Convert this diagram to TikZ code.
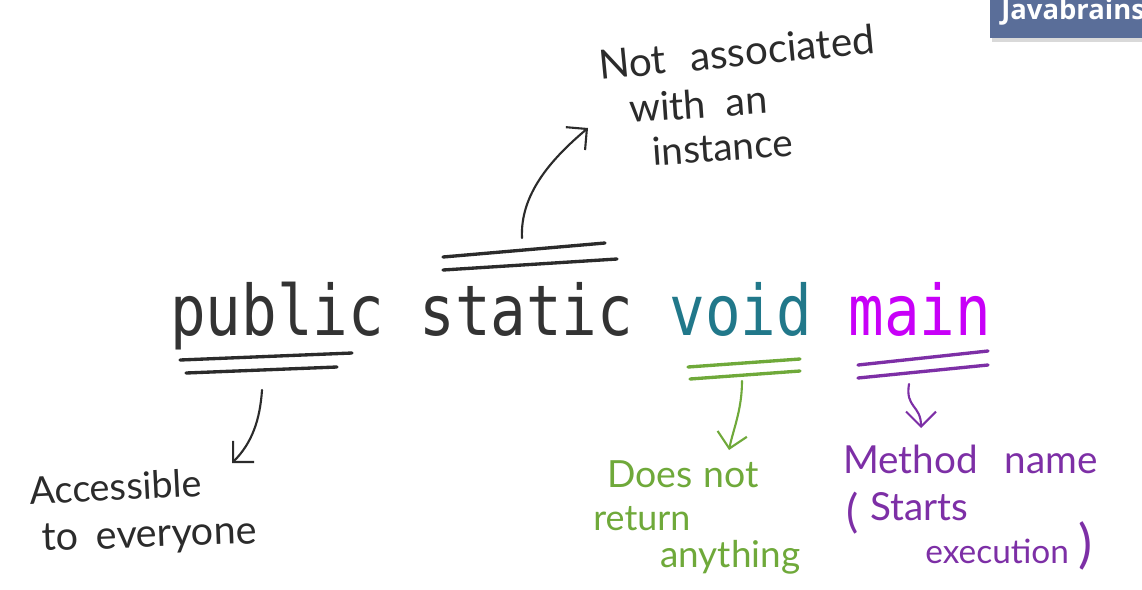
\documentclass[tikz,border=0pt]{standalone}
\usepackage{fontspec}
\setmainfont{Lato}
\newfontfamily\codefont{DejaVu Sans Mono}
\newfontfamily\badgefont{Open Sans}
\usetikzlibrary{arrows.meta}
\definecolor{ink}{HTML}{2B2B2B}
\definecolor{codegray}{HTML}{333333}
\definecolor{voidcol}{HTML}{21788A}
\definecolor{maincol}{HTML}{C800F8}
\definecolor{greenink}{HTML}{6FA93A}
\definecolor{purpleink}{HTML}{7D2FA6}
\definecolor{badgecol}{HTML}{5A6E99}
\tikzset{
  code/.style={font=\codefont\fontsize{33.7}{40}\selectfont, anchor=base west, inner sep=0pt},
  hw/.style={font=\fontsize{#1}{#1}\selectfont, anchor=base west, inner sep=0pt},
  uline/.style={line width=1.9pt, line cap=round},
  harrow/.style={line width=1.2pt, line cap=round, -{Straight Barb[length=8.5pt,width=17pt,line width=1.2pt]}},
}
\begin{document}
\begin{tikzpicture}[x=0.02cm,y=-0.02cm]
\useasboundingbox (0,0) rectangle (1142,589);
\clip (0,0) rectangle (1142,589);
\fill[white] (0,0) rectangle (1142,589);

% badge
\fill[black!15] (992,4) rectangle (1146,42);
\fill[badgecol] (990,-5) rectangle (1146,38);
\node[anchor=base west, inner sep=0pt, text=white, font=\badgefont\bfseries\fontsize{15.6}{18}\selectfont] (badge) at (1001,19) {Javabrains};

% code words
\node[code, text=codegray] (public) at (170,335) {\scalebox{1}[1.18]{public}};
\node[code, text=codegray] (static) at (419,335) {\scalebox{1}[1.18]{static}};
\node[code, text=voidcol] (void) at (669,335) {\scalebox{1}[1.18]{void}};
\node[code, text=maincol] (main) at (848,335) {\scalebox{1}[1.18]{main}};

% underlines
\draw[uline, ink] (443,257) -- (605,243);
\draw[uline, ink] (443,270) -- (617,259);
\draw[uline, ink] (180,360) -- (352,353);
\draw[uline, ink] (186,373) -- (337,367);
\draw[uline, greenink] (688,367) -- (800,359);
\draw[uline, greenink] (690,379) -- (800,371);
\draw[uline, purpleink] (858,365) -- (988,351);
\draw[uline, purpleink] (858,378) -- (988,365);

% arrow anchors
\coordinate (sA) at (522,238);
\coordinate (sB) at (588,128);
\coordinate (pA) at (262,390);
\coordinate (pB) at (232,463);
\coordinate (vA) at (742,381);
\coordinate (vB) at (729,450);
\coordinate (mA) at (909,384);
\coordinate (mB) at (921,428);

\draw[harrow, ink] (sA) .. controls (520,195) and (550,160) .. (sB);
\draw[harrow, ink] (pA) .. controls (260,420) and (252,443) .. (pB);
\draw[harrow, greenink] (vA) .. controls (742,410) and (733,430) .. (vB);
\draw[harrow, purpleink] (mA) .. controls (905,408) and (921,405) .. (mB);

% labels: static
\node[hw=23, text=ink, rotate=5.5] (not1) at (600,80) {Not\hspace{0.6em}associated};
\node[hw=22.5, text=ink, rotate=4] (not2) at (630,123) {with\hspace{0.5em}an};
\node[hw=22, text=ink, rotate=4] (not3) at (653,166) {instance};

% labels: public
\node[hw=21.5, text=ink, rotate=3] (acc1) at (30,505) {Accessible};
\node[hw=22.5, text=ink, rotate=2] (acc2) at (42,551) {to\hspace{0.45em}everyone};

% labels: void
\node[hw=21.3, text=greenink] (vd1) at (607,487) {Does\hspace{0.3em}not};
\node[hw=20.4, text=greenink] (vd2) at (593,530) {return};
\node[hw=21, text=greenink] (vd3) at (660,567) {anything};

% labels: main
\node[hw=22, text=purpleink] (mn1) at (843,473) {Method\hspace{0.7em}name};
\node[hw=26, text=purpleink] (mn2) at (846,527) {(};
\node[hw=22, text=purpleink] (mn3) at (870,520) {Starts};
\node[hw=19, text=purpleink] (mn4) at (925,563) {execution};
\node[hw=30, text=purpleink] (mn5) at (1078,562) {)};
\end{tikzpicture}
\end{document}
